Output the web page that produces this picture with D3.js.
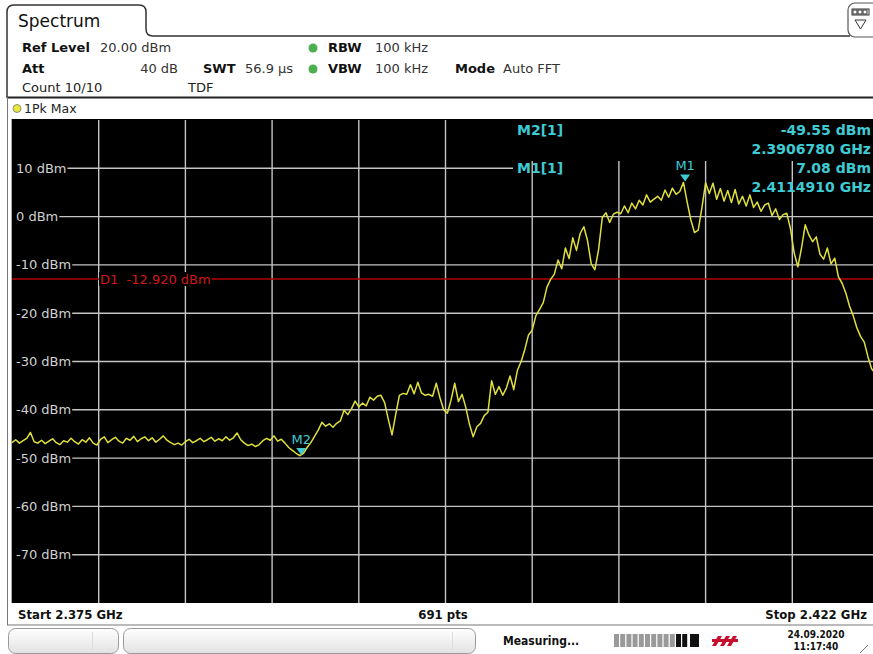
<!DOCTYPE html>
<html><head><meta charset="utf-8">
<script src="https://cdn.jsdelivr.net/npm/d3@7"></script>
<style>body{margin:0;background:#fff;overflow:hidden}svg{display:block}</style>
</head><body><svg id="c" width="873" height="654"></svg>
<script>
// ---- data ----
const startGHz = 2.375, stopGHz = 2.422;
const refLevel = 20, bottomLevel = -80;
const stepGHz = 0.0002;
const traceDbm = [
-46.8,-46.2,-46.9,-46.4,-45.9,-44.7,-46.6,-46.9,-46.3,-47.0,
-46.5,-46.0,-46.8,-47.2,-46.4,-46.7,-45.9,-46.6,-47.1,-46.2,
-46.7,-45.8,-46.9,-47.3,-46.1,-45.6,-46.8,-46.2,-45.7,-46.5,
-46.9,-45.9,-46.3,-45.5,-46.6,-46.0,-45.6,-46.4,-45.8,-46.7,
-46.1,-45.4,-46.3,-46.8,-47.2,-46.9,-47.3,-46.6,-46.1,-46.8,
-46.4,-45.9,-46.6,-46.2,-45.7,-46.5,-46.0,-46.4,-45.6,-46.3,
-45.8,-44.8,-46.2,-46.9,-47.4,-47.1,-47.6,-47.2,-46.4,-45.9,
-46.3,-45.4,-46.5,-46.1,-46.9,-47.8,-48.4,-49.0,
-49.5,-49.0,
-47.8,-46.8,-45.5,-44.2,-42.6,-43.4,-42.9,-43.6,-42.8,-42.3,
-40.1,-41.0,-39.8,-38.2,-39.4,-38.6,-39.2,-37.4,-38.0,-37.2,
-37.0,-38.5,-42.0,-45.2,-41.0,-37.0,-36.6,-36.8,-34.8,-36.7,
-34.3,-36.5,-37.0,-36.8,-37.2,-34.5,-37.5,-40.0,-40.7,-38.0,
-34.5,-38.3,-36.8,-39.5,-43.0,-45.6,-43.5,-42.8,-41.2,-40.5,
-34.0,-36.8,-35.2,-37.0,-35.5,-33.0,-35.8,-31.8,-30.0,-27.5,
-24.5,-23.5,-20.5,-19.2,-17.8,-14.6,-13.0,-11.9,-9.0,-10.8,
-6.5,-8.7,-4.4,-7.0,-3.5,-2.1,-5.0,-9.8,-11.0,-6.8,
-0.2,0.8,-1.2,0.5,0.9,0.6,2.2,0.8,2.8,1.6,
3.4,2.4,4.5,3.0,3.6,4.2,3.4,5.5,4.0,5.9,
4.6,5.2,7.08,3.0,-0.7,-3.3,-2.8,1.8,7.0,4.8,
6.9,3.6,5.8,3.2,5.4,2.9,5.6,2.6,4.2,2.2,
4.5,1.9,3.0,1.1,2.4,2.8,0.2,1.6,-0.6,0.4,
0.7,-2.5,-7.5,-10.4,-6.5,-1.7,-3.8,-5.2,-4.2,-7.8,
-8.8,-6.5,-9.8,-8.6,-12.5,-13.8,-15.8,-18.5,-20.5,-23.0,
-24.8,-26.0,-29.0,-31.5,-32.5,-33.5
];
const yTicks = [10,0,-10,-20,-30,-40,-50,-60,-70];
const yTickLabels = ["10 dBm","0 dBm","-10 dBm","-20 dBm","-30 dBm","-40 dBm","-50 dBm","-60 dBm","-70 dBm"];
const xDivisions = 10;
const markerNames = ["M1","M2"];
const markerFreqs = [2.411491, 2.390678];
const markerLevels = [7.08, -49.55];
const markerInfo = [["M2[1]","-49.55 dBm","2.3906780 GHz"],["M1[1]","7.08 dBm","2.4114910 GHz"]];
const displayLineLevel = -12.920;
const displayLineLabel = "D1  -12.920 dBm";
const footerLabels = ["Start 2.375 GHz","691 pts","Stop 2.422 GHz"];

// ---- drawing ----
const svg = d3.select("#c");
const F = "'DejaVu Sans', Verdana, sans-serif";
const FC = "'DejaVu Sans Condensed','DejaVu Sans',sans-serif";
const pl = 12, pr = 879, pt = 120, pb = 603;
const x = d3.scaleLinear().domain([startGHz, stopGHz]).range([pl, pr]);
const y = d3.scaleLinear().domain([bottomLevel, refLevel]).range([pb, pt]);
const cyan = "#3ecbd4";

// header tab
svg.append("path").attr("d","M7,98 V12 Q7,5 14,5 H139 Q146,5 146,12 V29 Q146,36 153,36 H850")
  .attr("fill","none").attr("stroke","#333").attr("stroke-width",1.5);
svg.append("text").attr("x",18).attr("y",27).attr("font-family",F).attr("font-size",17).attr("fill","#111").text("Spectrum");
// icon top right
svg.append("rect").attr("x",848).attr("y",3).attr("width",40).attr("height",34).attr("rx",7).attr("fill","#fff").attr("stroke","#555").attr("stroke-width",1.2);
[0,1,2].forEach(k=>svg.append("rect").attr("x",853+k*5).attr("y",10).attr("width",4).attr("height",4).attr("fill","#fff").attr("stroke","#333").attr("stroke-width",1));
svg.append("rect").attr("x",852).attr("y",9).attr("width",17).attr("height",6).attr("fill","none").attr("stroke","#333").attr("stroke-width",1);
svg.append("path").attr("d","M855,20 L866,20 L860.5,29 Z").attr("fill","none").attr("stroke","#333").attr("stroke-width",1);

function t(xp, yp, s, bold, size, anchor, fill, fam){
  return svg.append("text").attr("x",xp).attr("y",yp).attr("font-family",fam||F)
    .attr("font-size",size||13).attr("font-weight",bold?"bold":"normal")
    .attr("text-anchor",anchor||"start").attr("fill",fill||"#111").text(s);
}
t(22,52,"Ref Level",true); t(100,52,"20.00 dBm",false,13,"start","#333");
t(22,73,"Att",true); t(178,73,"40 dB",false,13,"end","#333");
t(203,73,"SWT",true); t(245,73,"56.9 µs",false,13,"start","#333");
svg.append("circle").attr("cx",313).attr("cy",48).attr("r",4.5).attr("fill","#4caf50");
svg.append("circle").attr("cx",313).attr("cy",69).attr("r",4.5).attr("fill","#4caf50");
t(328,52,"RBW",true); t(375,52,"100 kHz",false,13,"start","#333");
t(328,73,"VBW",true); t(375,73,"100 kHz",false,13,"start","#333");
t(455,73,"Mode",true); t(503,73,"Auto FFT",false,13,"start","#333");
t(22,92,"Count 10/10",false,13,"start","#222"); t(188,92,"TDF",false,13,"start","#222");

// separator
svg.append("line").attr("x1",7).attr("x2",873).attr("y1",97.5).attr("y2",97.5).attr("stroke","#222").attr("stroke-width",2);
// trace label row
svg.append("circle").attr("cx",17).attr("cy",108.5).attr("r",4).attr("fill","#e8e83a").attr("stroke","#777").attr("stroke-width",0.8);
t(24,113,"1Pk Max",false,12.5,"start","#222");

// frame
svg.append("line").attr("x1",7.5).attr("x2",7.5).attr("y1",97).attr("y2",625).attr("stroke","#777").attr("stroke-width",1);
svg.append("rect").attr("x",pl).attr("y",pt-1).attr("width",873-pl).attr("height",pb-pt+1).attr("fill","#000");
svg.append("line").attr("x1",11.5).attr("x2",11.5).attr("y1",pt-1).attr("y2",pb).attr("stroke","#aaa").attr("stroke-width",1);

// vertical grid
const grid = svg.append("g").attr("stroke","#c4c4c4").attr("stroke-width",1.4);
const span = stopGHz - startGHz;
for (let k=1;k<xDivisions;k++){
  const f = startGHz + k*span/xDivisions;
  const xp = x(f);
  grid.append("line").attr("x1",xp).attr("x2",xp).attr("y1",xp>505? y(11.5):pt).attr("y2",pb);
}
// horizontal grid with labels
const lab = svg.append("g");
yTicks.forEach((v,i)=>{
  const yp = y(v);
  const tx = lab.append("text").attr("x",16).attr("y",yp+4.5).attr("font-family",F).attr("font-size",13)
    .attr("fill","#d0d0d0").text(yTickLabels[i]);
  const w = tx.node().getComputedTextLength();
  const xEnd = v===10 ? 513 : pr;
  grid.append("line").attr("x1",16+w+1).attr("x2",xEnd).attr("y1",yp).attr("y2",yp);
});

// display line D1
const yd = y(displayLineLevel);
const dl = svg.append("g");
const dtxt = dl.append("text").attr("x",100).attr("y",yd+4.5).attr("font-family",F).attr("font-size",13)
  .attr("fill","#d01818").attr("xml:space","preserve").style("white-space","pre").text(displayLineLabel);
const dw = dtxt.node().getComputedTextLength();
dl.insert("rect","text").attr("x",99).attr("y",yd-7).attr("width",dw+2).attr("height",14).attr("fill","#000");
dl.append("line").attr("x1",pl).attr("x2",99).attr("y1",yd).attr("y2",yd).attr("stroke","#b40000").attr("stroke-width",1.5);
dl.append("line").attr("x1",100+dw+1).attr("x2",pr).attr("y1",yd).attr("y2",yd).attr("stroke","#b40000").attr("stroke-width",1.5);

// trace
const line = d3.line().x((d,i)=>x(startGHz + i*stepGHz)).y(d=>y(d));
svg.append("path").datum(traceDbm).attr("d",line).attr("fill","none")
  .attr("stroke","#e0e03c").attr("stroke-width",1.5).attr("stroke-linejoin","round");

// markers
markerNames.forEach((m,i)=>{
  const xp = x(markerFreqs[i]), yp = y(markerLevels[i]);
  svg.append("path").attr("d",`M${xp-5},${yp-8} L${xp+5},${yp-8} L${xp},${yp-1} Z`).attr("fill",cyan);
  t(xp,yp-12,m,false,13,"middle",cyan);
});
// marker info
markerInfo.forEach((r,i)=>{
  const b = 135 + i*38;
  t(517,b,r[0],true,14,"start",cyan);
  t(871,b,r[1],true,14,"end",cyan);
  t(871,b+19,r[2],true,14,"end",cyan);
});

// footer bar
svg.append("rect").attr("x",8).attr("y",pb+1).attr("width",873).attr("height",21).attr("fill","#fff");
svg.append("line").attr("x1",7).attr("x2",873).attr("y1",625).attr("y2",625).attr("stroke","#777").attr("stroke-width",1);
t(18,619,footerLabels[0],true,13,"start","#111",FC);
t(443,619,footerLabels[1],true,13,"middle","#111",FC);
t(867,619,footerLabels[2],true,13,"end","#111",FC);

// status bar
const defs = svg.append("defs");
const gr = defs.append("linearGradient").attr("id","gb").attr("x1",0).attr("x2",0).attr("y1",0).attr("y2",1);
gr.append("stop").attr("offset","0").attr("stop-color","#ffffff");
gr.append("stop").attr("offset","1").attr("stop-color","#e2e2e2");
svg.append("rect").attr("x",8.5).attr("y",628.5).attr("width",110).attr("height",25).attr("rx",7).attr("fill","url(#gb)").attr("stroke","#999");
svg.append("rect").attr("x",123.5).attr("y",628.5).attr("width",352).attr("height",25).attr("rx",7).attr("fill","url(#gb)").attr("stroke","#999");
svg.append("line").attr("x1",92.5).attr("x2",92.5).attr("y1",632).attr("y2",650).attr("stroke","#ddd");
svg.append("line").attr("x1",452.5).attr("x2",452.5).attr("y1",632).attr("y2",650).attr("stroke","#ddd");
t(503,645,"Measuring...",true,12,"start","#111",FC);
for (let k=0;k<12;k++){
  svg.append("rect").attr("x",614+k*6.2).attr("y",634).attr("width",5).attr("height",13).attr("fill", k>=10?"#111":"#9a9a9a");
}
svg.append("rect").attr("x",690).attr("y",634).attr("width",9).attr("height",13).attr("fill","#111");
svg.append("path").attr("d","M712,646 L718,636 L722,636 L716,646 Z M720,646 L726,636 L730,636 L724,646 Z M727,646 L733,636 L737,636 L731,646 Z").attr("fill","#c8102e");
svg.append("rect").attr("x",712).attr("y",639).attr("width",26).attr("height",3).attr("fill","#c8102e");
t(816,638,"24.09.2020",true,10,"middle","#111",FC);
t(816,650,"11:17:40",true,10,"middle","#111",FC);
svg.append("line").attr("x1",860).attr("x2",868).attr("y1",653).attr("y2",645).attr("stroke","#777");
</script></body></html>
